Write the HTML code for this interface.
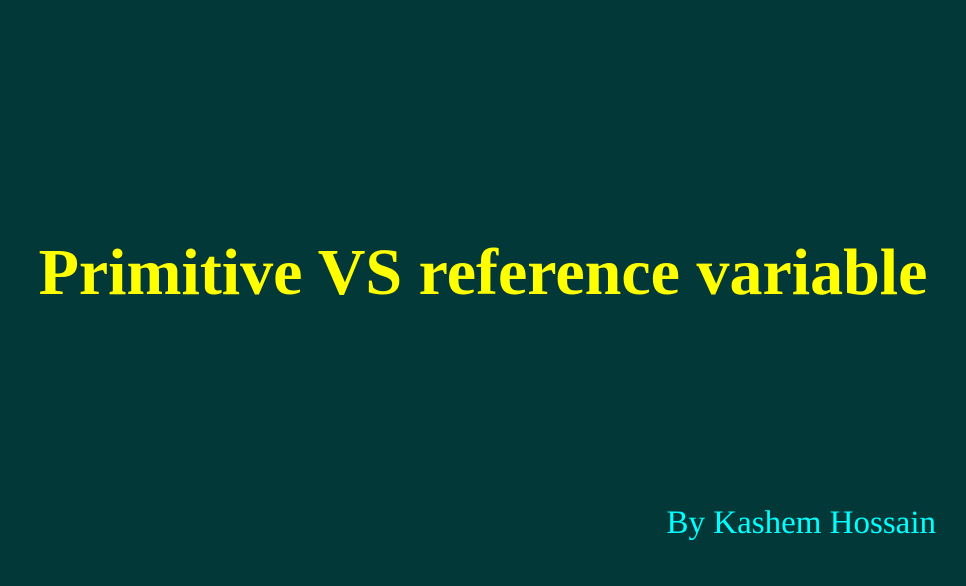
<!DOCTYPE html>
<html><head><meta charset="utf-8"><style>
html,body{margin:0;padding:0;}
body{width:966px;height:586px;background:#033838;position:relative;overflow:hidden;font-family:"Liberation Serif",serif;}
.t{position:absolute;left:0;width:966px;top:240px;text-align:center;font-size:66px;line-height:66px;font-weight:bold;color:#ffff00;white-space:nowrap;}
.b{position:absolute;right:30px;top:507px;font-size:33px;line-height:33px;color:#00ffff;white-space:nowrap;}
</style></head><body>
<div class="t">Primitive VS reference variable</div>
<div class="b">By Kashem Hossain</div>
</body></html>
